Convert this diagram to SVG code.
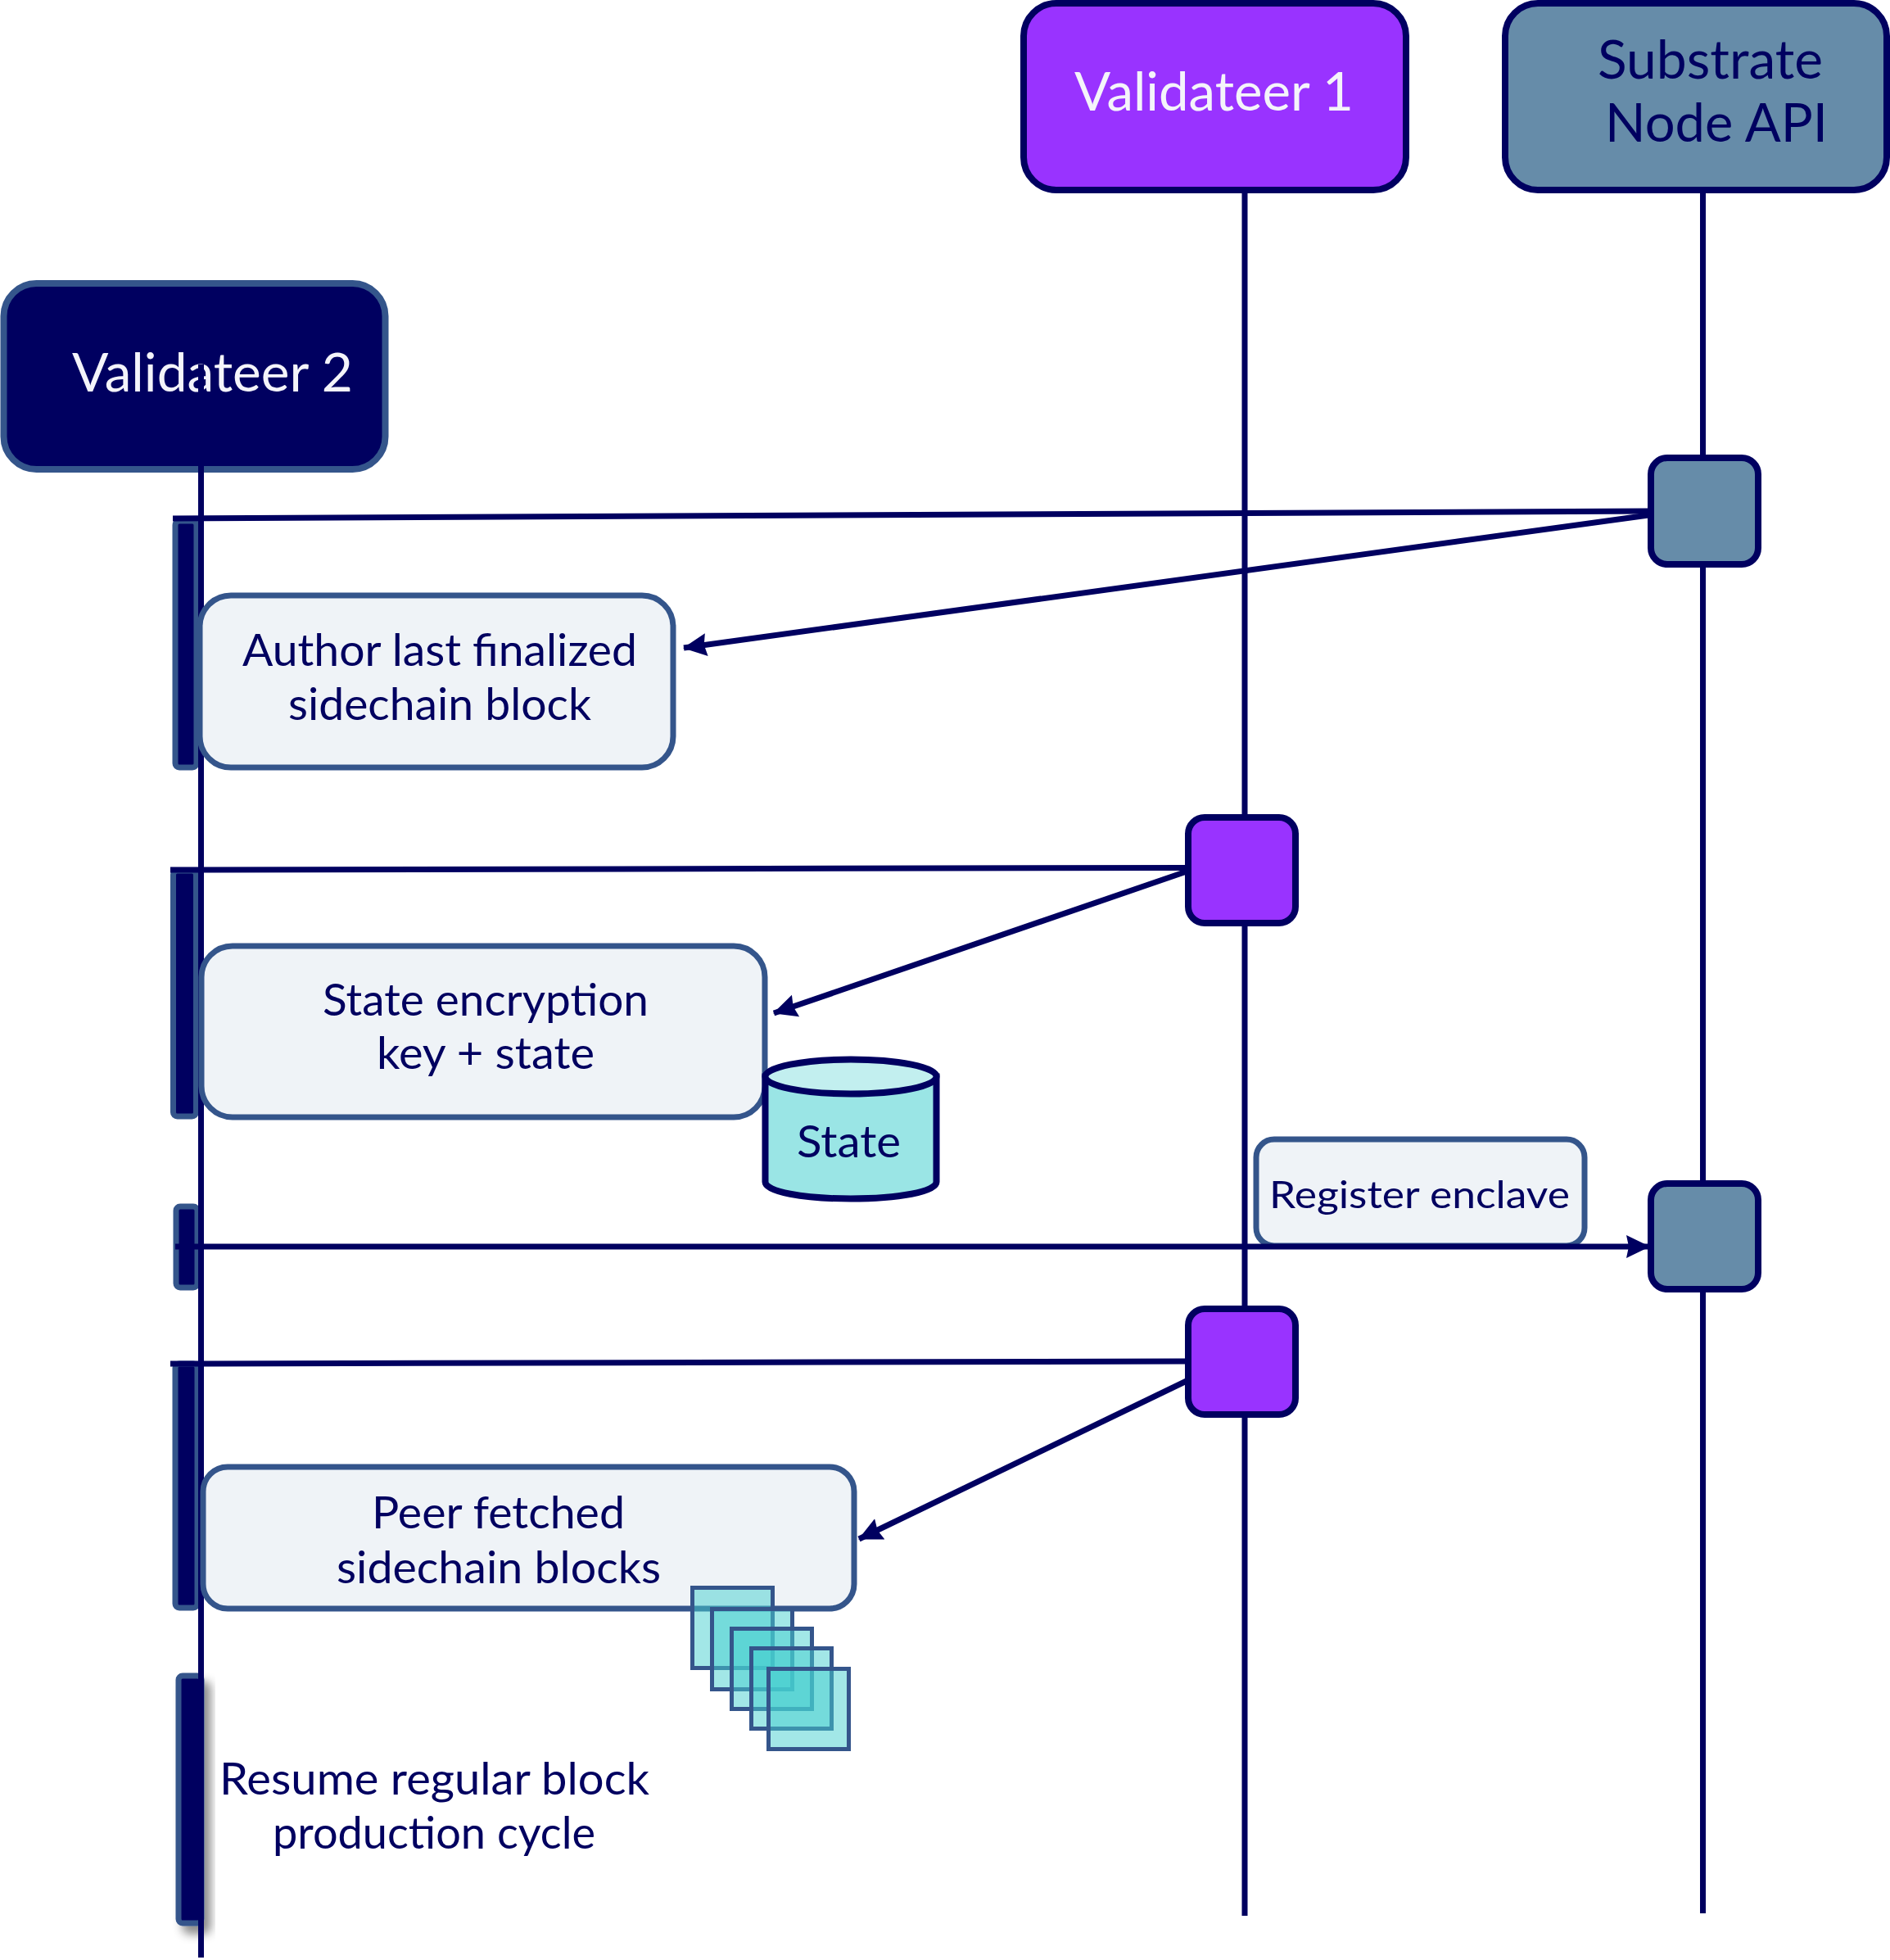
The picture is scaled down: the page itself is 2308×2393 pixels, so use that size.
<svg xmlns="http://www.w3.org/2000/svg" width="2308" height="2393" viewBox="0 0 2308 2393">
<style>
text{font-family:"Lato","Noto Sans","Liberation Sans",sans-serif;fill:#000060;text-anchor:start}
.h{font-size:66px}.n{font-size:54px}.s{font-size:47px}.w{fill:#f4f4fa}
.note{fill:#eff3f7;stroke:#34558b;stroke-width:7}
.bar{fill:#000060;stroke:#34558b;stroke-width:7}
.pur{fill:#9933ff;stroke:#000060;stroke-width:8}
.sla{fill:#668ca9;stroke:#000060;stroke-width:8}
.life{stroke:#000060;stroke-width:7;fill:none}
.msg{stroke:#000060;stroke-width:7;fill:none}
.sq{fill:#45d0d0;fill-opacity:.5;stroke:#34558b;stroke-width:5}
</style>
<defs>
<marker id="ah" viewBox="0 0 29 30" refX="28" refY="15" markerWidth="29" markerHeight="30" markerUnits="userSpaceOnUse" orient="auto"><path d="M0 1L29 15L0 29L3 15Z" fill="#000060"/></marker>
<filter id="sh" x="-60%" y="-10%" width="220%" height="120%"><feDropShadow dx="8" dy="10" stdDeviation="6" flood-color="#000" flood-opacity=".45"/></filter>
</defs>
<g id="validateer2"><rect x="4.500" y="346" width="466" height="227" rx="40" fill="#000060" stroke="#34558b" stroke-width="8"/><text class="h w" x="88" y="478" textLength="343" lengthAdjust="spacingAndGlyphs">Validateer 2</text></g>
<g id="validateer1"><rect class="pur" x="1250" y="4" width="467" height="228" rx="40"/><text class="h w" x="1312" y="135" textLength="341" lengthAdjust="spacingAndGlyphs">Validateer 1</text></g>
<g id="substrate"><rect class="sla" x="1838" y="4" width="466" height="228" rx="40"/><text class="h" x="1951" y="96" textLength="275" lengthAdjust="spacingAndGlyphs">Substrate</text><text class="h" x="1960" y="173" textLength="272" lengthAdjust="spacingAndGlyphs">Node API</text></g>
<g id="lifelines">
<path class="life" d="M245.500 445V2390"/>
<path class="life" d="M1520 232V2339"/>
<path class="life" d="M2079.500 232V2336"/>
</g>
<g id="activation-bars">
<rect class="bar" x="214" y="636" width="26" height="301" rx="5"/>
<rect class="bar" x="211.500" y="1063" width="28" height="300" rx="5"/>
<rect class="bar" x="215" y="1473" width="26" height="99" rx="5"/>
<rect class="bar" x="214" y="1665" width="27" height="298" rx="5"/>
<rect class="bar" x="218" y="2046" width="28" height="302" rx="5" filter="url(#sh)"/>
<path class="life" d="M245.500 600V2390"/>
</g>
<g id="note-author"><rect class="note" x="244" y="727" width="578" height="210" rx="38"/><text class="n" x="296" y="813" textLength="482" lengthAdjust="spacingAndGlyphs">Author last finalized</text><text class="n" x="352" y="879" textLength="370" lengthAdjust="spacingAndGlyphs">sidechain block</text></g>
<g id="note-state"><rect class="note" x="246" y="1155" width="688" height="209" rx="38"/><text class="n" x="394" y="1240" textLength="398" lengthAdjust="spacingAndGlyphs">State encryption</text><text class="n" x="460" y="1305" textLength="266" lengthAdjust="spacingAndGlyphs">key + state</text></g>
<g id="state-store"><path d="M934.500 1314.500V1443C934.500 1455 981 1463.500 1039 1463.500S1143.500 1455 1143.500 1443V1314.500Z" fill="#9ae5e5" stroke="#000060" stroke-width="8"/><ellipse cx="1039" cy="1314.500" rx="104.500" ry="21" fill="#c2efef" stroke="#000060" stroke-width="8"/><text class="n" x="973" y="1413" textLength="127" lengthAdjust="spacingAndGlyphs">State</text></g>
<g id="note-register"><rect class="note" x="1534" y="1391" width="401" height="130" rx="22"/><text class="s" x="1550" y="1475" textLength="367" lengthAdjust="spacingAndGlyphs">Register enclave</text></g>
<g id="note-peer"><rect class="note" x="248" y="1791" width="795" height="173" rx="30"/><text class="n" x="454" y="1866" textLength="309" lengthAdjust="spacingAndGlyphs">Peer fetched</text><text class="n" x="411" y="1933" textLength="396" lengthAdjust="spacingAndGlyphs">sidechain blocks</text></g>
<g id="blocks">
<rect class="sq" x="845.500" y="1938.500" width="98" height="98"/>
<rect class="sq" x="869.500" y="1964.500" width="98" height="98"/>
<rect class="sq" x="893.500" y="1988.500" width="98" height="98"/>
<rect class="sq" x="917.500" y="2012.500" width="98" height="98"/>
<rect class="sq" x="938.500" y="2037.500" width="98" height="98"/>
</g>
<g id="note-resume"><text class="n" x="268" y="2191" textLength="525" lengthAdjust="spacingAndGlyphs">Resume regular block</text><text class="n" x="333" y="2257" textLength="394" lengthAdjust="spacingAndGlyphs">production cycle</text></g>
<g id="connectors">
<path class="msg" d="M2013 624L211 633"/>
<path class="msg" d="M2013 629L835 791" marker-end="url(#ah)"/>
<path class="msg" d="M1449 1059.500L208 1062"/>
<path class="msg" d="M1449 1064L945 1237" marker-end="url(#ah)"/>
<path class="msg" d="M214 1522H2014" marker-end="url(#ah)"/>
<path class="msg" d="M1449 1662L208 1665"/>
<path class="msg" d="M1449 1686L1049 1879" marker-end="url(#ah)"/>
</g>
<g id="exec-substrate-1"><rect class="sla" x="2016" y="559" width="131" height="130" rx="20"/></g>
<g id="exec-validateer-1"><rect class="pur" x="1451" y="998" width="131" height="129" rx="20"/></g>
<g id="exec-substrate-2"><rect class="sla" x="2016" y="1445" width="131" height="129" rx="20"/></g>
<g id="exec-validateer-2"><rect class="pur" x="1451" y="1598" width="131" height="129" rx="20"/></g>
</svg>
